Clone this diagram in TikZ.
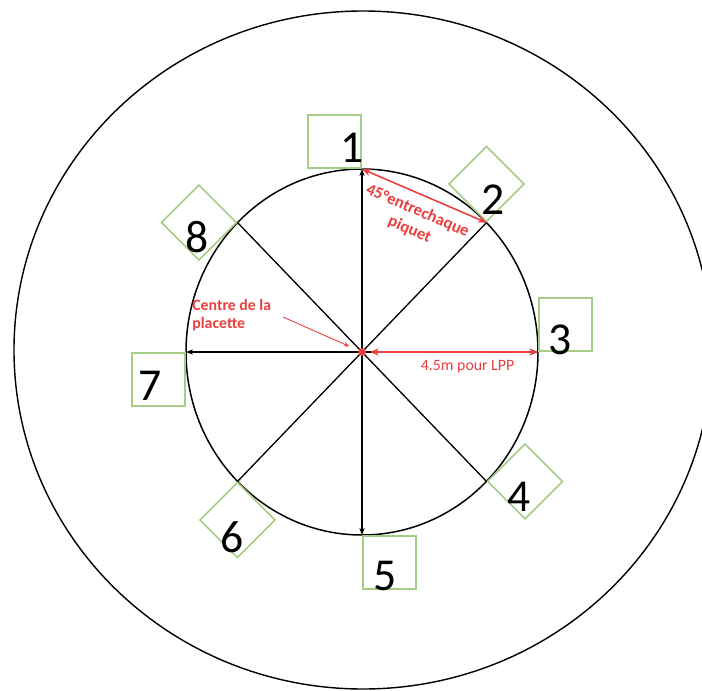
\documentclass[tikz,border=0pt]{standalone}
\usepackage{fontspec}
\setmainfont{Carlito}
\usetikzlibrary{arrows.meta, positioning, calc}
\definecolor{stakegreen}{RGB}{165,205,135}
\definecolor{markred}{RGB}{232,62,62}

\begin{document}
\begin{tikzpicture}[x=0.02cm, y=0.02cm,
    stake/.style={draw=stakegreen, line width=0.9pt, minimum size=1.06cm, inner sep=0pt, anchor=south east},
    num/.style={font=\fontsize{26}{28}\selectfont},
    spoke/.style={line width=0.75pt},
    redarrow/.style={draw=markred, line width=0.9pt, {Stealth[length=5pt,width=4pt]}-{Stealth[length=5pt,width=4pt]}},
    redtext/.style={text=markred, font=\fontsize{9}{10.5}\selectfont\bfseries}]
  \useasboundingbox (-362,-338) rectangle (340,352);
  \clip (-362,-338) rectangle (340,352);

  % plot outline
  \draw[line width=0.8pt] (1,2) ellipse [x radius=349, y radius=339];
  \draw[line width=0.85pt] (0,0) ellipse [x radius=176, y radius=183];
  \coordinate (c) at (0,0);

  % stakes, one every 45 degrees
  \foreach \i in {1,...,8} {
    \pgfmathsetmacro{\ang}{90-45*(\i-1)}
    \coordinate (p\i) at (\ang:176 and 183);
    \node[stake, rotate=\ang-90] (s\i) at (p\i) {};
  }
  \foreach \i in {2,4,6,8} \draw[spoke] (c) -- (p\i);
  \foreach \i in {1,3,5,7} \draw[spoke, -{Stealth[length=4pt,width=3pt]}] (c) -- (p\i);

  \node[num] (n1) at (-10,204) {1};
  \node[num] (n2) at (131,152) {2};
  \node[num] (n3) at (198,12) {3};
  \node[num] (n4) at (157,-145) {4};
  \node[num] (n5) at (23,-224) {5};
  \node[num] (n6) at (-130,-185) {6};
  \node[num] (n7) at (-212,-34) {7};
  \node[num] (n8) at (-165,115) {8};

  % annotations
  \draw[redarrow] (p1) -- (p2) node[midway, below, sloped, redtext, font=\fontsize{9.5}{11.5}\selectfont\bfseries, align=center, inner sep=5pt] (ang) {45°entrechaque\\piquet};
  \draw[redarrow, shorten <=4.5pt] (c) -- (p3) node[pos=0.6, below, text=markred, font=\fontsize{9}{10}\selectfont, inner sep=4.5pt] (dist) {4.5m pour LPP};
  \fill[markred] (c) circle (4);

  \node[redtext, align=left, anchor=west, inner sep=0pt] (centre) at (-170,37) {Centre de la\\placette};
  \coordinate (ptr) at (-79,35);
  \draw[markred, line width=0.5pt, -{Stealth[length=3pt,width=2.5pt]}, shorten >=8pt] (ptr) -- (c);
\end{tikzpicture}
\end{document}
